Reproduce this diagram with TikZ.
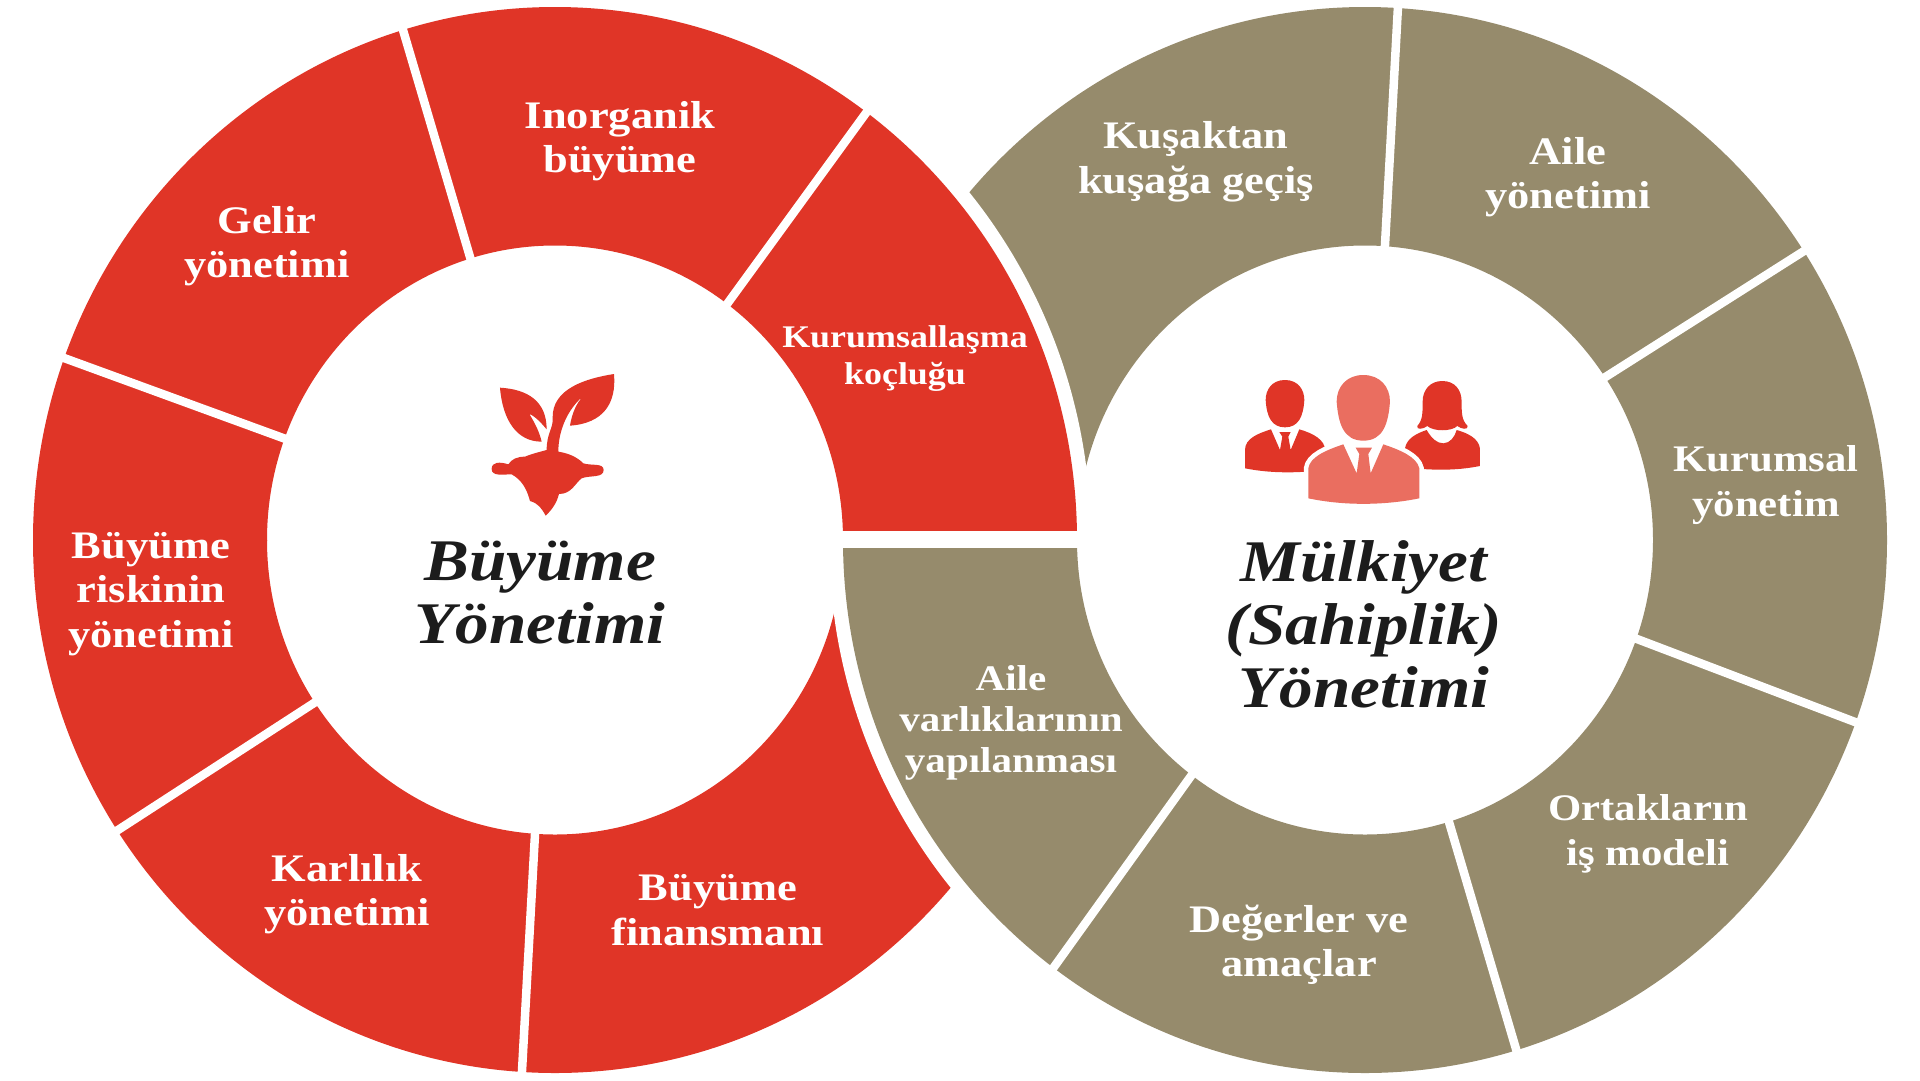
\documentclass[tikz,border=0pt]{standalone}
\usepackage{fontspec}
\setmainfont[FakeStretch=1.14]{Liberation Serif}
\definecolor{growthred}{HTML}{E03527}
\definecolor{ownerolive}{HTML}{968B6C}
\definecolor{lightred}{HTML}{EA6E60}
\definecolor{titleblack}{HTML}{1C1C1C}
\begin{document}
\begin{tikzpicture}[
    x=1pt, y=-1pt,
    ring/.style={insert path={(#1) ellipse [x radius=522, y radius=533] (#1) ellipse [x radius=288, y radius=294.5]}},
    halo/.style={insert path={(#1) ellipse [x radius=536, y radius=548]}},
    gap/.style={draw=white, line width=8.5pt, shorten >=-12pt, shorten <=-12pt},
    seglabel/.style={text=white, align=center, font=\bfseries\fontsize{39}{44.5}\selectfont},
    narrowlabel/.style={seglabel, font=\bfseries\fontsize{37.5}{44.5}\selectfont},
    coachlabel/.style={seglabel, font=\bfseries\fontsize{31.5}{37}\selectfont},
    assetlabel/.style={seglabel, font=\bfseries\fontsize{36}{41}\selectfont},
    title/.style={text=titleblack, align=center, font=\bfseries\itshape\fontsize{59}{63}\selectfont}]
  \useasboundingbox (0,0) rectangle (1920,1080);
  \coordinate (growth) at (555,540);
  \coordinate (owner) at (1365,540);

  \begin{scope}
    \clip (0,0) rectangle (1920,540);
    \fill[ownerolive, even odd rule, ring=owner];
    \fill[white, halo=growth];
    \fill[growthred, even odd rule, ring=growth];
  \end{scope}
  \begin{scope}
    \clip (0,540) rectangle (1920,1080);
    \fill[growthred, even odd rule, ring=growth];
    \fill[white, halo=owner];
    \fill[ownerolive, even odd rule, ring=owner];
  \end{scope}
  \fill[white] (835,531) rectangle (1085,548);

  \foreach \ax/\ay/\bx/\by in {470/257/403/30, 730/300/866/113, 283/438/64/358, 314/703/118/830, 535/834/522/1071,
      1385/245/1398/6, 1607/376/1804/251, 1637/639/1855/722, 1449/822/1516/1049, 1191/776/1054/967}
    \draw[gap] (\ax,\ay) -- (\bx,\by);

  \node[seglabel] (inorganik) at (620,141) {Inorganik\\büyüme};
  \node[seglabel] (gelir) at (267,246) {Gelir\\yönetimi};
  \node[coachlabel] (kurumsallasma) at (905,359) {Kurumsallaşma\\koçluğu};
  \node[seglabel] (riskinin) at (151,594) {Büyüme\\riskinin\\yönetimi};
  \node[seglabel] (karlilik) at (347,894) {Karlılık\\yönetimi};
  \node[seglabel] (finansmani) at (718,910) {Büyüme\\finansmanı};
  \node[seglabel] (kusaktan) at (1196,162) {Kuşaktan\\kuşağa geçiş};
  \node[seglabel] (aile) at (1568,177) {Aile\\yönetimi};
  \node[narrowlabel] (kurumsal) at (1766,485) {Kurumsal\\yönetim};
  \node[narrowlabel] (ortaklarin) at (1648,834) {Ortakların\\iş modeli};
  \node[seglabel] (degerler) at (1299,945) {Değerler ve\\amaçlar};
  \node[assetlabel] (varliklar) at (1011,723) {Aile\\varlıklarının\\yapılanması};
  \node[title] (growthtitle) at (540,593) {Büyüme\\Yönetimi};
  \node[title] (ownertitle) at (1364,624) {Mülkiyet\\(Sahiplik)\\Yönetimi};

  \begin{scope}[shift={(400,340)}, x=0.3333pt, y=-0.3333pt]
    \fill[growthred] (300,143) .. controls (385,148) and (440,185) .. (440,268)
      .. controls (425,250) and (405,228) .. (388,222)
      .. controls (405,250) and (418,275) .. (425,305)
      .. controls (350,305) and (308,240) .. (300,143) -- cycle;
    \fill[growthred] (642,102) .. controls (560,115) and (455,145) .. (458,235)
      .. controls (460,265) and (440,280) .. (440,330)
      .. controls (410,338) and (385,345) .. (375,350)
      .. controls (350,350) and (335,358) .. (325,373)
      .. controls (300,365) and (275,365) .. (275,387)
      .. controls (275,410) and (310,403) .. (335,403)
      .. controls (365,420) and (380,445) .. (390,483)
      .. controls (415,490) and (425,505) .. (437,527)
      .. controls (455,510) and (470,490) .. (477,462)
      .. controls (515,462) and (525,430) .. (545,415)
      .. controls (570,405) and (611,415) .. (611,390)
      .. controls (611,368) and (575,378) .. (550,370)
      .. controls (530,350) and (505,340) .. (475,335)
      .. controls (475,270) and (505,195) .. (570,153)
      .. controls (530,175) and (515,225) .. (510,257)
      .. controls (610,250) and (650,190) .. (642,102) -- cycle;
  \end{scope}
  \begin{scope}[shift={(1200,340)}, x=0.3333pt, y=-0.3333pt]
    \fill[growthred] (255,120) .. controls (295,120) and (313,150) .. (313,180)
      .. controls (310,230) and (295,262) .. (255,262)
      .. controls (215,262) and (200,230) .. (197,180)
      .. controls (197,150) and (215,120) .. (255,120) -- cycle;
    \fill[growthred] (135,385) -- (135,330) .. controls (135,295) and (175,280) .. (213,268)
      -- (240,330) -- (247,290) -- (238,276) -- (272,276) -- (265,290) -- (272,330) -- (298,268)
      .. controls (340,280) and (375,300) .. (375,330) -- (370,390)
      .. controls (290,400) and (210,400) .. (135,385) -- cycle;
    \fill[growthred] (727,123) .. controls (765,123) and (785,150) .. (785,185)
      .. controls (785,220) and (785,240) .. (803,258) .. controls (805,270) and (785,268) .. (772,258)
      .. controls (755,275) and (700,275) .. (682,258) .. controls (670,268) and (648,270) .. (652,258)
      .. controls (668,240) and (668,220) .. (668,185) .. controls (668,150) and (690,123) .. (727,123) -- cycle;
    \fill[growthred] (615,325) .. controls (620,295) and (650,280) .. (680,270)
      .. controls (695,295) and (710,310) .. (730,310) .. controls (750,310) and (765,290) .. (770,270)
      .. controls (805,280) and (835,295) .. (840,325) -- (840,378)
      .. controls (780,390) and (720,392) .. (640,385) -- cycle;
    \fill[lightred, preaction={draw=white, line width=9pt}] (325,475) -- (325,385) .. controls (330,350) and (380,330) .. (430,313)
      -- (470,400) -- (478,342) -- (467,323) -- (516,323) -- (505,342) -- (512,400) -- (550,313)
      .. controls (600,330) and (650,350) .. (658,385) -- (658,475)
      .. controls (550,497) and (430,497) .. (325,475) -- cycle;
    \fill[lightred] (490,105) .. controls (540,105) and (570,140) .. (570,185)
      .. controls (565,250) and (550,302) .. (490,302)
      .. controls (430,302) and (415,250) .. (410,185)
      .. controls (410,140) and (440,105) .. (490,105) -- cycle;
  \end{scope}
\end{tikzpicture}
\end{document}
